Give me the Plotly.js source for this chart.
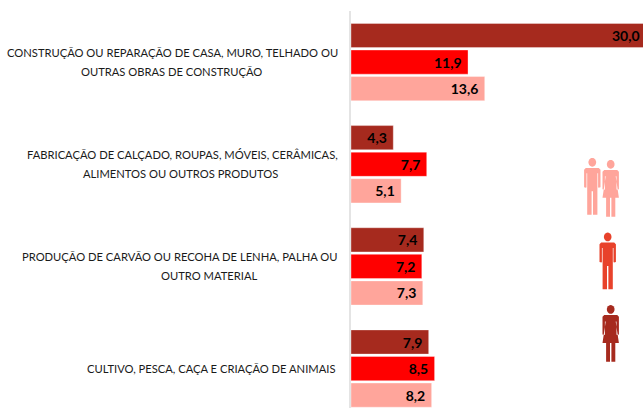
<!DOCTYPE html>
<html>
<head>
<meta charset="utf-8">
<script src="https://cdn.plot.ly/plotly-3.0.1.min.js"></script>
<style>html,body{margin:0;padding:0;background:#fff;overflow:hidden;width:643px;height:408px}</style>
</head>
<body>
<div id="chart"></div>
<script>
const categories = ["c1", "c2", "c3", "c4"];
const labelLine1 = [
  "CONSTRUÇÃO OU REPARAÇÃO DE CASA, MURO, TELHADO OU",
  "FABRICAÇÃO DE CALÇADO, ROUPAS, MÓVEIS, CERÂMICAS,",
  "PRODUÇÃO DE CARVÃO OU RECOHA DE LENHA, PALHA OU",
  "CULTIVO, PESCA, CAÇA E CRIAÇÃO DE ANIMAIS"
];
const labelLine2 = [
  "OUTRAS OBRAS DE CONSTRUÇÃO",
  "ALIMENTOS OU OUTROS PRODUTOS",
  "OUTRO MATERIAL",
  ""
];
const mulheres = [30.0, 4.3, 7.4, 7.9];
const homens = [11.9, 7.7, 7.2, 8.5];
const total = [13.6, 5.1, 7.3, 8.2];
const seriesNames = ["Mulheres", "Homens", "Total"];
const seriesColors = ["#A62A1E", "#FF0000", "#FFA59B"];

const W = 646, H = 408, L = 351, T = 10.5;
const textFont = {family: "Lato, Carlito, sans-serif", size: 11.2, color: "#1a1a1a"};
const line1Right = [340, 340, 339, 337];
const line2Right = [264, 280, 259, 0];

const traces = [mulheres, homens, total].map((vals, i) => ({
  type: "bar", orientation: "h", name: seriesNames[i],
  x: vals, y: categories,
  marker: {color: seriesColors[i], line: {color: "rgba(255,255,255,0.35)", width: 1}},
  texttemplate: "%{x:.1f}\u00A0", textposition: "inside", insidetextanchor: "end",
  textangle: 0, constraintext: "none",
  textfont: {family: "Lato, Carlito, sans-serif", size: 14, color: "#000", weight: 700},
  hoverinfo: "x+name"
}));

const annotations = [];
categories.forEach((c, i) => {
  const two = labelLine2[i] !== "";
  annotations.push({xref: "paper", yref: "y", x: (line1Right[i] - L) / (W - L), y: c, xanchor: "right", yanchor: "middle",
    text: labelLine1[i], showarrow: false, font: textFont, yshift: two ? 9.5 : 0});
  if (two) annotations.push({xref: "paper", yref: "y", x: (line2Right[i] - L) / (W - L), y: c,
    xanchor: "right", yanchor: "middle", text: labelLine2[i], showarrow: false, font: textFont, yshift: -9.5});
});

// pictogram helpers: local pixels -> paper coordinates
const px = (x) => (x - L) / (W - L);
const py = (y) => (H - y) / (H - T);
function poly(pts, ox, oy) {
  return "M" + pts.map(p => px(ox + p[0]).toFixed(5) + "," + py(oy + p[1]).toFixed(5)).join(" L") + " Z";
}
function circle(cx, cy, r) {
  const pts = [];
  for (let a = 0; a < 24; a++) pts.push([cx + r * Math.cos(a * Math.PI / 12), cy + r * Math.sin(a * Math.PI / 12) * 1.15]);
  return pts;
}
function manPaths(ox, oy) {
  return [
    poly(circle(0, 0, 3.8), ox, oy),
    poly([[-6.5,5.6],[6.5,5.6],[8.2,7.4],[8.2,25],[6.3,25.5],[5.8,25],[5.8,11],[5.1,11],[5.1,27],[5.1,52.5],[0.7,52.5],[0.7,29],[-0.7,29],[-0.7,52.5],[-5.1,52.5],[-5.1,11],[-5.8,11],[-5.8,25],[-6.3,25.5],[-8.2,25],[-8.2,7.4]], ox, oy)
  ];
}
function womanPaths(ox, oy) {
  return [
    poly(circle(0, 0, 3.8), ox, oy),
    poly([[-6.5,5.6],[6.5,5.6],[8.2,7.4],[8.2,25],[6.3,25.5],[5.8,25],[5.8,12],[5,12],[8.2,33.5],[4.6,33.5],[4.6,52.5],[0.7,52.5],[0.7,33.5],[-0.7,33.5],[-0.7,52.5],[-4.6,52.5],[-4.6,33.5],[-8.2,33.5],[-5,12],[-5.8,12],[-5.8,25],[-6.3,25.5],[-8.2,25],[-8.2,7.4]], ox, oy)
  ];
}
const icon = (paths, color) => paths.map(p => ({type: "path", xref: "paper", yref: "paper", path: p,
  fillcolor: color, line: {width: 0}, layer: "above"}));
const shapes = [
  ...icon(manPaths(592.3, 162), "#FFA59B"),
  ...icon(womanPaths(610.7, 164), "#FFA59B"),
  ...icon(manPaths(607.7, 236.7), "#E8422B"),
  ...icon(womanPaths(610.7, 309.3), "#A62A1E")
];

const layout = {
  width: W, height: H,
  margin: {l: L, r: 0, t: T, b: 0, pad: 0},
  paper_bgcolor: "#fff", plot_bgcolor: "#fff",
  showlegend: false, barmode: "group", bargap: 0.22, bargroupgap: 0.09,
  separators: ",.",
  xaxis: {range: [0, 30], visible: false, fixedrange: true},
  yaxis: {type: "category", categoryorder: "array", categoryarray: categories,
    range: [3.386, -0.5], showticklabels: false, ticks: "", showgrid: false, zeroline: false,
    showline: true, linecolor: "#E4E4E4", linewidth: 2, fixedrange: true},
  annotations, shapes
};
Plotly.newPlot("chart", traces, layout, {displayModeBar: false, staticPlot: true});
</script>
</body>
</html>
